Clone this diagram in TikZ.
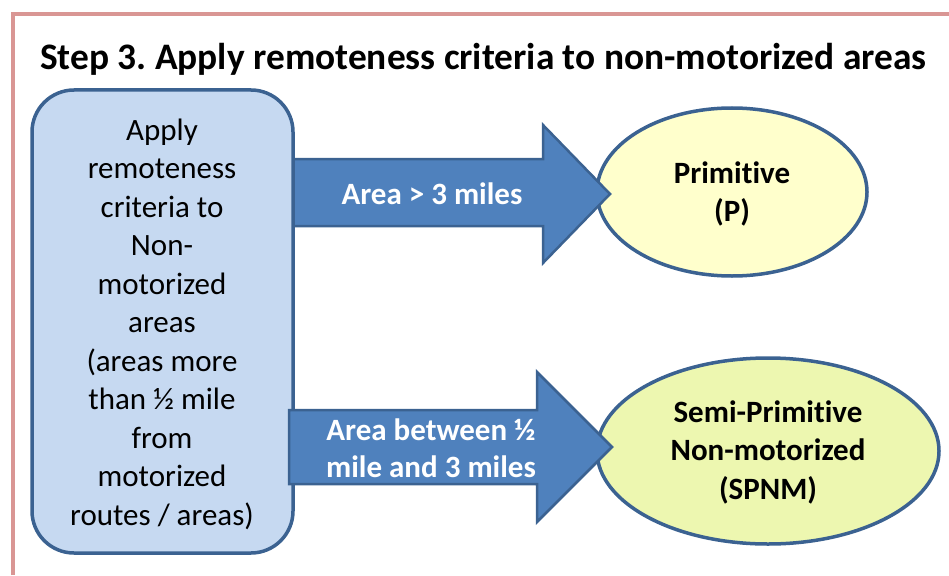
\documentclass[tikz,border=0pt]{standalone}
\usepackage{fontspec}
\setmainfont{Carlito}[RawFeature={-liga;-clig;-dlig}]
\frenchspacing
\definecolor{frame}{HTML}{D99694}
\definecolor{boxfill}{HTML}{C6D9F1}
\definecolor{edge}{HTML}{3B6291}
\definecolor{arrowfill}{HTML}{4F81BD}
\definecolor{primfill}{HTML}{FFFFCC}
\definecolor{spnmfill}{HTML}{EDF7B0}
\tikzset{
  blockarrow/.style={fill=arrowfill, draw=edge, line width=2.5pt, line join=miter},
  oval/.style={draw=edge, line width=3.5pt},
  boxtext/.style={align=center, font=\fontsize{31}{38.5}\selectfont},
  arrowtext/.style={align=center, text=white, font=\fontsize{31}{37}\selectfont\bfseries},
  ovaltext/.style={align=center, font=\fontsize{31}{38.5}\selectfont\bfseries},
}
\begin{document}
\begin{tikzpicture}[x=1pt,y=-1pt]
\useasboundingbox (0,0) rectangle (949,575);
% frame
\draw[frame, line width=4pt] (12.5,575) -- (12.5,14) -- (949,14);
% title
\node[anchor=base west, inner sep=0pt, font=\fontsize{37.4}{44}\selectfont\bfseries] (title) at (40,70) {Step 3. Apply remoteness criteria to non-motorized areas};
% ellipses
\draw[oval, fill=primfill] (732,192) ellipse [x radius=135, y radius=84];
\node[ovaltext] (prim) at (732,194) {Primitive\\(P)};
\draw[oval, fill=spnmfill] (768,451) ellipse [x radius=171, y radius=93];
\node[ovaltext] (spnm) at (768,452) {Semi-Primitive\\Non-motorized\\(SPNM)};
% arrow 1
\draw[blockarrow] (286,159) -- (543,159) -- (543,125) -- (610,194) -- (543,263) -- (543,226) -- (286,226) -- cycle;
\node[arrowtext] (a1) at (432,194) {Area > 3 miles};
% left box
\node[draw=edge, fill=boxfill, line width=3.5pt, rounded corners=42pt, minimum width=261pt, minimum height=463pt, inner sep=0pt] (box) at (162.5,321.5) {};
\node[boxtext] (boxt) at (162,324) {Apply\\remoteness\\criteria to\\Non-\\motorized\\areas\\(areas more\\than ½ mile\\from\\motorized\\routes / areas)};
% arrow 2
\draw[blockarrow] (289,410) -- (537,410) -- (537,372) -- (612,447) -- (537,522) -- (537,484) -- (289,484) -- cycle;
\node[arrowtext] (a2) at (431,448) {Area between ½\\mile and 3 miles};
\end{tikzpicture}
\end{document}
